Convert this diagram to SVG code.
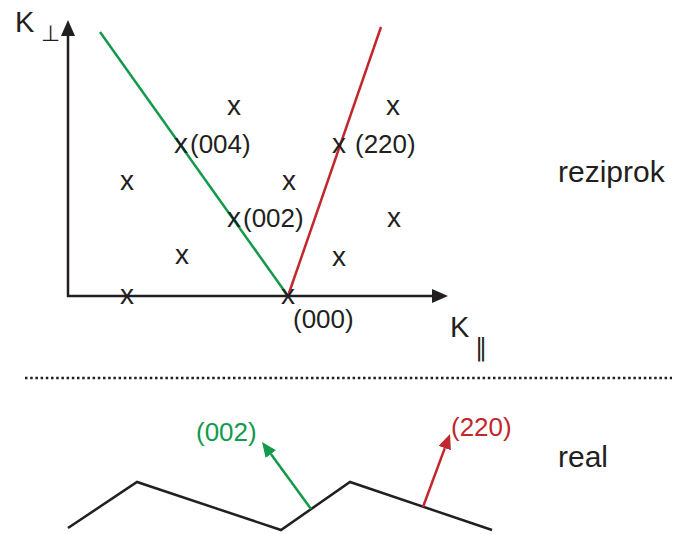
<svg xmlns="http://www.w3.org/2000/svg" width="674" height="534" viewBox="0 0 674 534">
<style>
.t{font-family:"Liberation Sans",Arial,sans-serif;fill:#231f20}
.x{font-size:28px;text-anchor:middle}
.l{font-size:26px}
.ax{stroke:#231f20;stroke-width:2.5;fill:none}
.g{stroke:#12994a;stroke-width:2.5;fill:none}
.r{stroke:#c1272d;stroke-width:2.5;fill:none}
</style>
<defs>
<marker id="ak" markerUnits="userSpaceOnUse" markerWidth="16" markerHeight="14" refX="0" refY="7" orient="auto"><path d="M0,0 L16,7 L0,14 z" fill="#231f20"/></marker>
<marker id="ag" markerUnits="userSpaceOnUse" markerWidth="15" markerHeight="13" refX="0" refY="6.5" orient="auto"><path d="M0,0 L15,6.5 L0,13 z" fill="#12994a"/></marker>
<marker id="ar" markerUnits="userSpaceOnUse" markerWidth="15" markerHeight="13" refX="0" refY="6.5" orient="auto"><path d="M0,0 L15,6.5 L0,13 z" fill="#c1272d"/></marker>
</defs>
<g id="connectors">
<line class="ax" x1="68" y1="297" x2="68" y2="36" marker-end="url(#ak)"/>
<line class="ax" x1="67" y1="296" x2="432" y2="296" marker-end="url(#ak)"/>
<line class="g" x1="100" y1="32" x2="288" y2="296"/>
<line class="r" x1="288" y1="296" x2="381" y2="27"/>
<line x1="25" y1="378" x2="672" y2="378" stroke="#231f20" stroke-width="2.5" stroke-dasharray="2.5 2.7"/>
<polyline class="ax" points="68,528 137,482 281,530 350,482 492,530"/>
<line class="g" x1="311" y1="509" x2="270.9" y2="454.1" marker-end="url(#ag)"/>
<line class="r" x1="423" y1="507" x2="444.8" y2="448.1" marker-end="url(#ar)"/>
</g>
<g id="axis-labels">
<text class="t" x="15" y="32" font-size="29">K</text>
<text x="41" y="41" font-size="22" font-family="DejaVu Sans,sans-serif" fill="#231f20">⊥</text>
<text class="t" x="450" y="337" font-size="29">K</text>
<text x="475" y="356" font-size="25" font-family="DejaVu Sans,sans-serif" fill="#231f20">∥</text>
</g>
<g id="points">
<text class="t x" x="234" y="115">x</text>
<text class="t x" x="393" y="115">x</text>
<text class="t x" x="181" y="153">x</text>
<text class="t x" x="339" y="153">x</text>
<text class="t x" x="127" y="190">x</text>
<text class="t x" x="289" y="190">x</text>
<text class="t x" x="234" y="227">x</text>
<text class="t x" x="394" y="227">x</text>
<text class="t x" x="182" y="264">x</text>
<text class="t x" x="339" y="266">x</text>
<text class="t x" x="127" y="304">x</text>
<text class="t x" x="288" y="304">x</text>
</g>
<g id="point-labels">
<text class="t l" x="190" y="153">(004)</text>
<text class="t l" x="355" y="153">(220)</text>
<text class="t l" x="243" y="227">(002)</text>
<text class="t l" x="293" y="328">(000)</text>
</g>
<g id="real-labels">
<text class="l" x="196" y="441" font-family="Liberation Sans,Arial,sans-serif" fill="#12994a">(002)</text>
<text class="l" x="451" y="436" font-family="Liberation Sans,Arial,sans-serif" fill="#c1272d">(220)</text>
</g>
<g id="section-labels">
<text class="t" x="558" y="182" font-size="30">reziprok</text>
<text class="t" x="558" y="467" font-size="30">real</text>
</g>
</svg>
